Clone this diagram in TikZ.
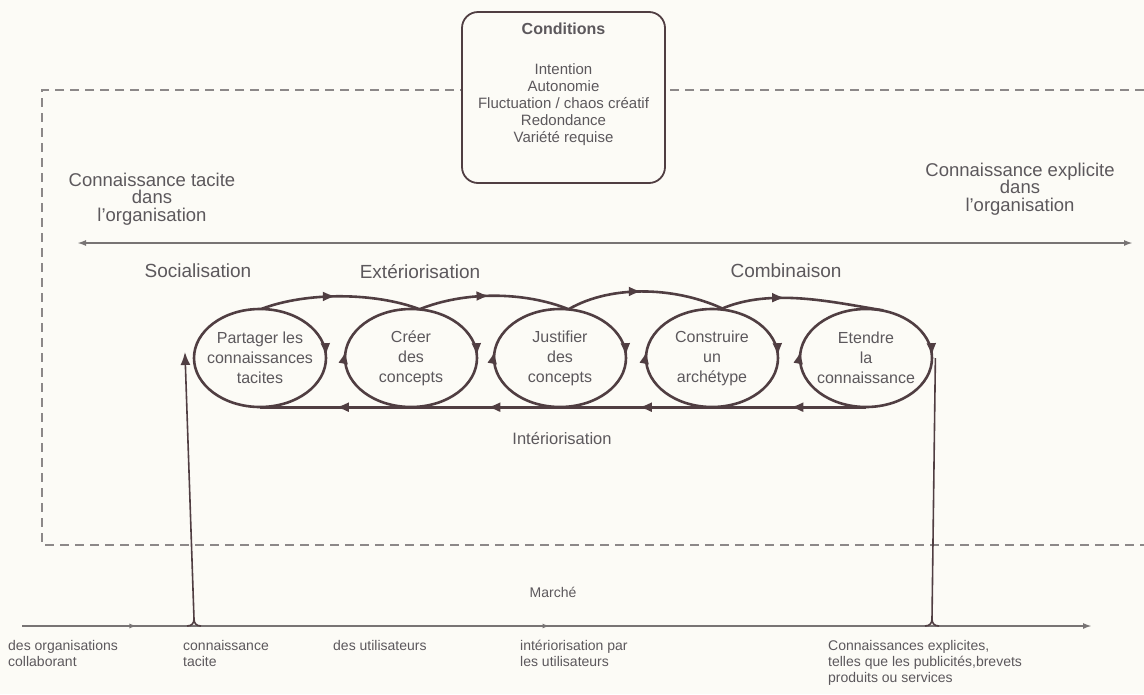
\documentclass[tikz,border=0pt]{standalone}
\usepackage{fontspec}
\setmainfont{Liberation Sans}
\usetikzlibrary{arrows.meta,decorations.markings,shapes.geometric}
\definecolor{linec}{RGB}{80,62,66}
\definecolor{textc}{RGB}{92,88,92}
\definecolor{dashc}{RGB}{140,136,136}
\definecolor{axisc}{RGB}{120,116,116}
\definecolor{bgc}{RGB}{252,251,246}
\tikzset{
  bigtip/.tip={Latex[length=13pt,width=10pt]},
  smalltip/.tip={Latex[length=7pt,width=5pt]},
  frame/.style={draw=dashc,line width=1.3pt,dash pattern=on 9pt off 6pt},
  condbox/.style={draw=linec,line width=1.8pt,rounded corners=16pt,fill=bgc,minimum width=203pt,minimum height=171pt,inner sep=0pt},
  condtext/.style={text=textc,align=center,inner sep=0pt,font=\fontsize{15}{17}\selectfont},
  biglbl/.style={text=textc,align=center,inner sep=0pt,font=\fontsize{18.5}{17.5}\selectfont},
  phase/.style={text=textc,inner sep=0pt,font=\fontsize{19}{21}\selectfont},
  midlbl/.style={text=textc,inner sep=0pt,font=\fontsize{16.5}{19}\selectfont},
  smalllbl/.style={text=textc,align=left,inner sep=0pt,font=\fontsize{14}{16}\selectfont},
  ellnode/.style={shape=ellipse,minimum width=132pt,minimum height=98pt,inner sep=0pt,align=center,text=textc,font=\fontsize{16}{20}\selectfont},
  ellline/.style={draw=linec,line width=2.6pt,
    postaction={decorate,decoration={markings,
      mark=at position 0.52 with {\arrow{bigtip}},
      mark=at position 0.995 with {\arrow{bigtip}}}}},
  cycline/.style={draw=linec,line width=2.6pt},
  arcarrow/.style={postaction={decorate,decoration={markings,mark=at position #1 with {\arrow{bigtip}}}}},
  vline/.style={draw=linec,line width=1.6pt},
  dblarrow/.style={draw=axisc,line width=1.8pt,{Latex[length=9pt,width=6pt]}-{Latex[length=9pt,width=6pt]}},
  botline/.style={draw=axisc,line width=1.8pt,-{Latex[length=9pt,width=6pt]},
    postaction={decorate,decoration={markings,
      mark=at position 0.107 with {\arrow{smalltip}},
      mark=at position 0.493 with {\arrow{smalltip}}}}}
}
\begin{document}
\begin{tikzpicture}[x=1pt,y=-1pt]
\useasboundingbox (0,0) rectangle (1144,694);
\fill[bgc] (0,0) rectangle (1144,694);

% dashed frame of the organisation
\draw[frame] (1144,90) -- (42,90) -- (42,545) -- (1144,545);

% conditions
\node[condbox] (cond) at (563.5,97.5) {};
\node[condtext,anchor=north] (condt) at (563.5,23) {{\bfseries\fontsize{16}{17}\selectfont Conditions}\\[23pt]Intention\\Autonomie\\Fluctuation / chaos créatif\\Redondance\\Variété requise};

% upper labels and axis
\node[biglbl] (tacit) at (152,199) {Connaissance tacite\\dans\\l'organisation};
\node[biglbl] (explicit) at (1020,189) {Connaissance explicite\\dans\\l'organisation};
\coordinate (axl) at (77,243);
\coordinate (axr) at (1133,243);
\draw[dblarrow] (axl) -- (axr);

\node[phase] (soc) at (198,271) {Socialisation};
\node[phase] (ext) at (420,272) {Extériorisation};
\node[phase] (comb) at (786,271) {Combinaison};

% the five phases
\node[ellnode] (e1) at (260,358) {Partager les\\connaissances\\tacites};
\node[ellnode] (e2) at (411,358) {Créer\\des\\concepts};
\node[ellnode] (e3) at (560,358) {Justifier\\des\\concepts};
\node[ellnode] (e4) at (712,358) {Construire\\un\\archétype};
\node[ellnode] (e5) at (866,358) {Etendre\\la\\connaissance};

\foreach \e in {e2,e3,e4,e5}{
  \draw[ellline] (\e.center) ellipse [x radius=66, y radius=49];
}
\draw[cycline,postaction={decorate,decoration={markings,mark=at position 0.995 with {\arrow{bigtip}}}}] (e1.center) ellipse [x radius=66, y radius=49];

% upper arcs
\draw[cycline,arcarrow=0.47] (e1.88) .. controls +(45,-17) and +(-45,-17) .. (e2.80);
\draw[cycline,arcarrow=0.47] (e2.80) .. controls +(45,-18) and +(-45,-18) .. (e3.80);
\draw[cycline,arcarrow=0.47] (e3.80) .. controls +(45,-26) and +(-45,-22) .. (e4.75);
\draw[cycline,arcarrow=0.40] (e4.80) .. controls +(50,-22) and +(-50,-8) .. (e5.70);

% lower return line
\draw[cycline,postaction={decorate,decoration={markings,
  mark=at position 0.125 with {\arrow{bigtip}},
  mark=at position 0.375 with {\arrow{bigtip}},
  mark=at position 0.625 with {\arrow{bigtip}},
  mark=at position 0.875 with {\arrow{bigtip}}}}] (e5.south) -- (e1.south);

\node[midlbl] (inter) at (562,438) {Intériorisation};

% market line
\coordinate (bl) at (22,626);
\coordinate (br) at (1092,626);
\coordinate (jl) at (194,619);
\coordinate (jr) at (932,619);
\draw[botline] (bl) -- (br);
\draw[vline,-{bigtip}] (jl) -- ([yshift=6pt]e1.west);
\draw[vline] (e5.east) -- (jr);
\draw[vline] (187,626) .. controls (192,626) and (194,623) .. (jl);
\draw[vline] (201,626) .. controls (196,626) and (194,623) .. (jl);
\draw[vline] (925,626) .. controls (930,626) and (932,623) .. (jr);
\draw[vline] (939,626) .. controls (934,626) and (932,623) .. (jr);

\node[smalllbl] (march) at (553,592) {Marché};
\node[smalllbl,anchor=north west] (b1) at (8,640) {des organisations\\collaborant};
\node[smalllbl,anchor=north west] (b2) at (183,640) {connaissance\\tacite};
\node[smalllbl,anchor=north west] (b3) at (333,640) {des utilisateurs};
\node[smalllbl,anchor=north west] (b4) at (520,640) {intériorisation par\\les utilisateurs};
\node[smalllbl,anchor=north west] (b5) at (828,640) {Connaissances explicites,\\telles que les publicités,brevets\\produits ou services};
\end{tikzpicture}
\end{document}
